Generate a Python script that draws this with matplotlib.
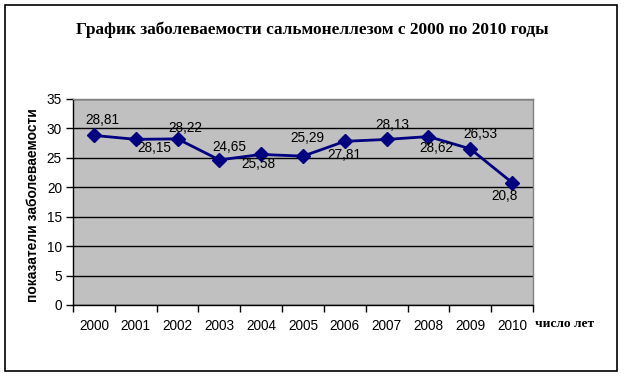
"""Salmonellosis incidence chart, 2000-2010."""

import matplotlib

matplotlib.use("Agg")
import matplotlib.pyplot as plt
from matplotlib.patches import Rectangle

years = ["2000", "2001", "2002", "2003", "2004", "2005", "2006", "2007", "2008", "2009", "2010"]
incidence = [28.81, 28.15, 28.22, 24.65, 25.58, 25.29, 27.81, 28.13, 28.62, 26.53, 20.8]
value_labels = ["28,81", "28,15", "28,22", "24,65", "25,58", "25,29", "27,81", "28,13", "28,62", "26,53", "20,8"]
y_ticks = [0, 5, 10, 15, 20, 25, 30, 35]

title = "График заболеваемости сальмонеллезом с 2000 по 2010 годы"
y_title = "показатели заболеваемости"
x_title = "число лет"

# label placement relative to each point, in pixels (dx, dy)
LABEL_OFFSETS = [(8, 15), (19, -9), (8, 11), (10, 13), (-3, -10), (4, 18),
                 (0, -14), (6, 14), (8, -11), (10, 15), (-8, -13)]

NAVY = "#000080"

figure = plt.figure(figsize=(6.24, 3.77), dpi=100)
figure.patch.set_facecolor("white")
figure.patches.append(
    Rectangle((5 / 624, 6 / 377), 612 / 624, 366 / 377, transform=figure.transFigure,
              fill=False, edgecolor="black", linewidth=1.2)
)

axis = figure.add_axes([73 / 624, 72 / 377, 460 / 624, 206 / 377])
axis.set_facecolor("#C0C0C0")

positions = list(range(len(years)))
axis.plot(positions, incidence, color=NAVY, linewidth=2, marker="D", markersize=7,
          markerfacecolor=NAVY, markeredgecolor=NAVY, zorder=3)

for pos, value, text, (dx, dy) in zip(positions, incidence, value_labels, LABEL_OFFSETS):
    axis.annotate(text, (pos, value), xytext=(dx, dy), textcoords="offset pixels",
                  ha="center", va="center", fontsize=9.8, family="Liberation Sans",
                  color="black", zorder=4)

axis.set_xlim(-0.5, len(years) - 0.5)
axis.set_ylim(0, 35)
axis.set_yticks(y_ticks)
axis.set_yticklabels([str(t) for t in y_ticks], fontsize=9.8, family="Liberation Sans")
axis.yaxis.grid(True, color="black", linewidth=1)
axis.set_axisbelow(True)

boundaries = [p - 0.5 for p in positions] + [positions[-1] + 0.5]
axis.set_xticks(boundaries)
axis.set_xticklabels([""] * len(boundaries))
axis.set_xticks(positions, minor=True)
axis.set_xticklabels(years, minor=True, fontsize=9.8, family="Liberation Sans")
axis.tick_params(axis="x", which="major", direction="out", length=5, width=1)
axis.tick_params(axis="x", which="minor", length=0, pad=10)
axis.tick_params(axis="y", direction="out", length=5, width=1, pad=3)

for side in ("top", "right"):
    axis.spines[side].set_color("#808080")
    axis.spines[side].set_linewidth(1)
for side in ("left", "bottom"):
    axis.spines[side].set_color("black")
    axis.spines[side].set_linewidth(1)

figure.text(312 / 624, 1 - 30 / 377, title, ha="center", va="center",
            fontsize=12.4, fontweight="bold", family="Liberation Serif")
figure.text(33 / 624, 1 - 205 / 377, y_title, ha="center", va="center", rotation=90,
            fontsize=10, fontweight="bold", family="Liberation Sans")
figure.text(535 / 624, 1 - 324 / 377, x_title, ha="left", va="center",
            fontsize=9.7, fontweight="bold", family="Liberation Serif")

figure.savefig("out.png", dpi=100)
plt.close(figure)
